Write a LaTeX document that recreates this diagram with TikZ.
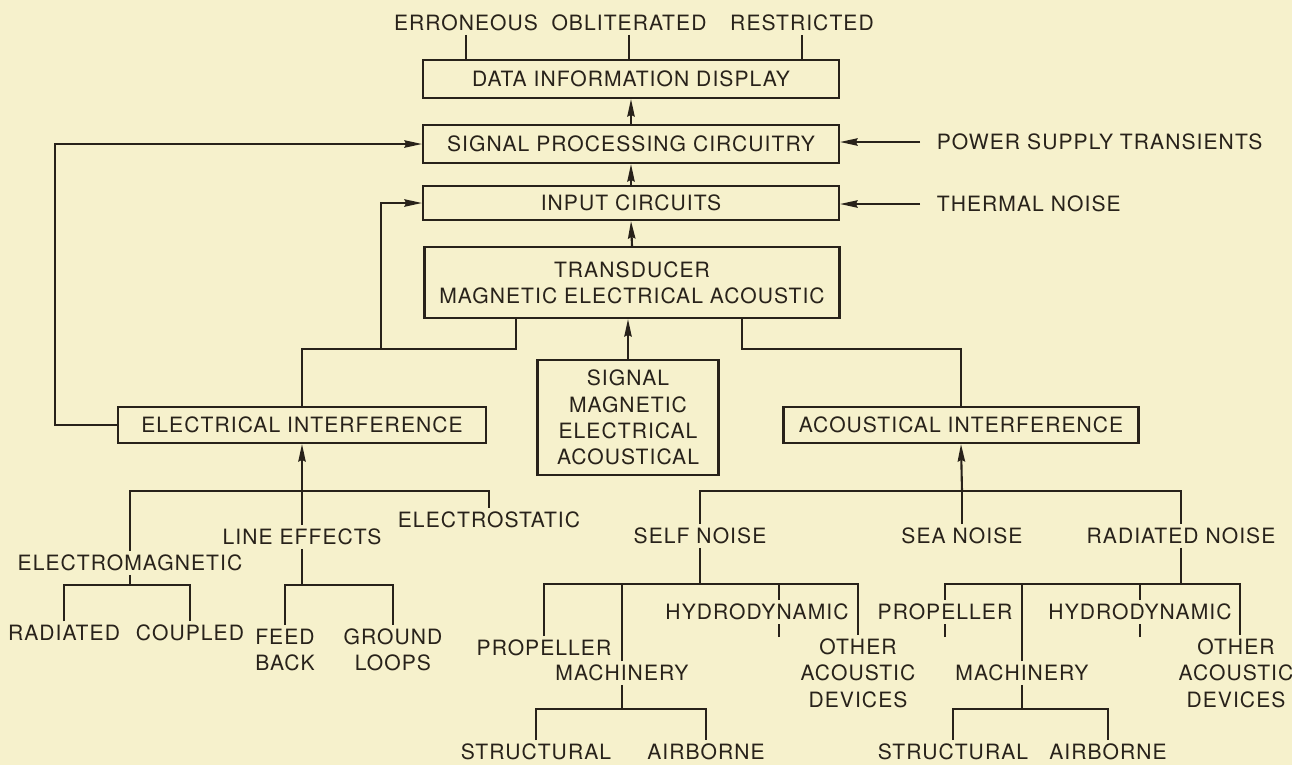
\documentclass[tikz,border=0pt]{standalone}
\usepackage{fontspec}
\setmainfont[LetterSpace=5]{TeX Gyre Heros}
\usepackage{tikz}
\usetikzlibrary{arrows.meta}
\definecolor{paper}{RGB}{246,241,204}
\definecolor{ink}{RGB}{40,34,26}

\begin{document}
\begin{tikzpicture}[>={Stealth[length=10pt,width=4.2pt,inset=1pt]}, x=0.02cm, y=-0.02cm,
    every node/.style={font=\fontsize{12}{15}\selectfont, text=ink},
    box/.style={draw=ink, line width=1.2pt, inner sep=0pt, align=center},
    lbl/.style={inner sep=2pt, align=center},
    cover/.style={lbl, fill=paper, inner xsep=1pt},
    wire/.style={draw=ink, line width=1.2pt},
    feed/.style={wire, ->}]
    % Paper
    \fill[paper] (0,0) rectangle (1292,765);
    \useasboundingbox (0,0) rectangle (1292,765);

    % Main chain of boxes
    \node[box, minimum width=8.32cm, minimum height=0.76cm] (data) at (631,79) {DATA INFORMATION DISPLAY};
    \node[box, minimum width=8.32cm, minimum height=0.76cm] (spc) at (631,144) {SIGNAL PROCESSING CIRCUITRY};
    \node[box, minimum width=8.32cm, minimum height=0.68cm] (inp) at (631,203) {INPUT CIRCUITS};
    \node[box, minimum width=8.30cm, minimum height=1.42cm] (trans) at (632,282.5) {TRANSDUCER\\MAGNETIC ELECTRICAL ACOUSTIC};
    \node[box, minimum width=3.62cm, minimum height=2.30cm] (sig) at (628,417.5) {SIGNAL\\MAGNETIC\\ELECTRICAL\\ACOUSTICAL};
    \node[box, minimum width=7.36cm, minimum height=0.72cm] (ei) at (302,425) {ELECTRICAL INTERFERENCE};
    \node[box, minimum width=7.10cm, minimum height=0.72cm] (ai) at (961,425) {ACOUSTICAL INTERFERENCE};

    \draw[feed] (inp.north) -- (spc.south);
    \draw[feed] (spc.north) -- (data.south);
    \draw[feed] (trans.north) -- (inp.south);
    \draw[feed] (sig.north) -- (sig.north |- trans.south);

    % Display faults
    \node[lbl] (erron) at (466,23) {ERRONEOUS};
    \node[lbl] (oblit) at (629,23) {OBLITERATED};
    \node[lbl] (restr) at (802,23) {RESTRICTED};
    \foreach \n in {erron,oblit,restr}
        \draw[wire] (\n.south) -- (\n.south |- data.north);

    % Outside sources
    \node[lbl, anchor=west] (pst) at (933,142) {POWER SUPPLY TRANSIENTS};
    \node[lbl, anchor=west] (thn) at (933,204) {THERMAL NOISE};
    \draw[feed] ([xshift=-0.26cm]pst.west) -- (pst.west -| spc.east);
    \draw[feed] ([xshift=-0.26cm]thn.west) -- (thn.west -| inp.east);

    % Interference paths
    \coordinate (tapl) at (516,0 |- trans.south);
    \coordinate (tapr) at (742,0 |- trans.south);
    \coordinate (jin) at (381,348);
    \draw[wire] (tapl) -- ++(0,30) -| (ei.north);
    \draw[wire] (tapr) -- ++(0,30) -| (ai.north);
    \draw[feed] (jin) |- (inp.west);
    \draw[feed] (ei.west) -- ++(-62,0) |- (spc.west);

    % Electrical interference tree
    \node[lbl] (emag) at (130,563) {ELECTROMAGNETIC};
    \node[lbl] (line) at (302,537) {LINE EFFECTS};
    \node[lbl] (estat) at (489,520) {ELECTROSTATIC};
    \coordinate (ebus) at (302,491);
    \draw[wire] (emag.north) |- (ebus) -| (estat.north);
    \draw[wire] (line.north) -- (ebus);
    \draw[feed] (ebus) -- (ei.south);

    \node[lbl] (rad) at (64,633) {RADIATED};
    \node[lbl] (coup) at (190,633) {COUPLED};
    \coordinate (embus) at (130,585);
    \draw[wire] (rad.north) |- (embus) -| (coup.north);
    \draw[wire] (emag.south) -- (embus);

    \node[lbl] (fdbk) at (285,650) {FEED\\BACK};
    \node[lbl] (gnd) at (393,650) {GROUND\\LOOPS};
    \coordinate (lebus) at (302,585);
    \draw[wire] (fdbk.north) |- (lebus) -| (gnd.north);
    \draw[wire] (line.south) -- (lebus);

    % Acoustical interference tree
    \node[lbl] (self) at (700,536) {SELF NOISE};
    \node[lbl] (sea) at (962,536) {SEA NOISE};
    \node[lbl] (radn) at (1181,536) {RADIATED NOISE};
    \coordinate (abus) at (962,491);
    \draw[wire] (self.north) |- (abus) -| (radn.north);
    \draw[wire] (sea.north) -- (abus);
    \draw[feed] (abus) -- (ai.south);

    % Self noise
    \node[lbl] (sprop) at (544,648) {PROPELLER};
    \node[lbl] (smach) at (622,673) {MACHINERY};
    \node[lbl] (soth) at (858,673) {OTHER\\ACOUSTIC\\DEVICES};
    \coordinate (sbus) at (700,584);
    \coordinate (shyt) at (779,637);
    \draw[wire] (self.south) -- (sbus);
    \draw[wire] (sprop.north) |- (sbus) -| (soth.north);
    \draw[wire] (smach.north) -- (smach.north |- sbus);
    \draw[wire] (shyt) -- (shyt |- sbus);
    \node[cover] (shyd) at (757,612) {HYDRODYNAMIC};

    \node[lbl] (sstr) at (536,752) {STRUCTURAL};
    \node[lbl] (sair) at (706,752) {AIRBORNE};
    \coordinate (smbus) at (622,709);
    \draw[wire] (smach.south) -- (smbus);
    \draw[wire] (sstr.north) |- (smbus) -| (sair.north);

    % Radiated noise
    \node[lbl] (rmach) at (1022,673) {MACHINERY};
    \node[lbl] (roth) at (1236,673) {OTHER\\ACOUSTIC\\DEVICES};
    \coordinate (rbus) at (1181,584);
    \coordinate (rprt) at (945,637);
    \coordinate (rhyt) at (1140,637);
    \draw[wire] (radn.south) -- (rbus);
    \draw[wire] (rprt) |- (rbus) -| ([xshift=0.08cm]roth.north);
    \draw[wire] (rhyt) -- (rhyt |- rbus);
    \draw[wire] (rmach.north) -- (rmach.north |- rbus);
    \node[cover] (rprop) at (945,612) {PROPELLER};
    \node[cover] (rhyd) at (1140,612) {HYDRODYNAMIC};

    \node[lbl] (rstr) at (953,752) {STRUCTURAL};
    \node[lbl] (rair) at (1108,752) {AIRBORNE};
    \coordinate (rmbus) at (1022,709);
    \draw[wire] (rmach.south) -- (rmbus);
    \draw[wire] (rstr.north) |- (rmbus) -| (rair.north);
\end{tikzpicture}
\end{document}
